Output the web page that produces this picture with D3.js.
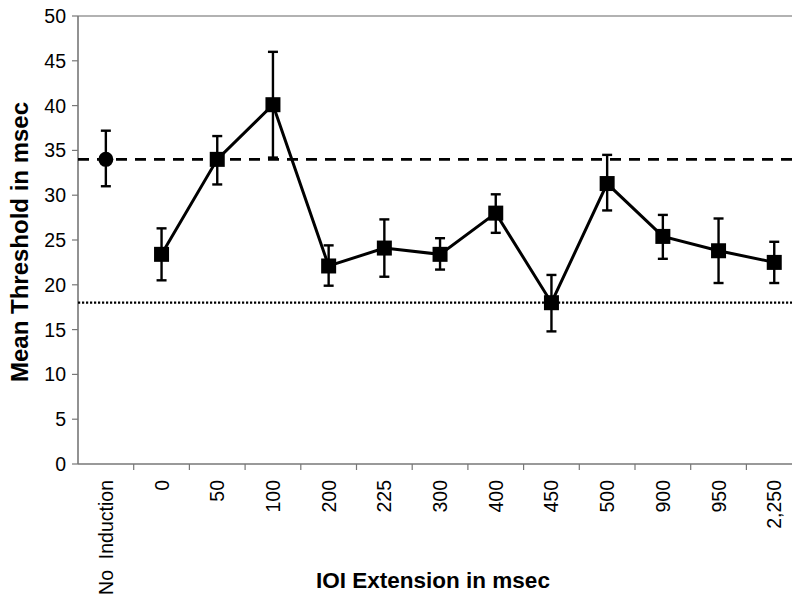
<!DOCTYPE html>
<html>
<head>
<meta charset="utf-8">
<script src="https://cdn.jsdelivr.net/npm/d3@7"></script>
<style>
  body{margin:0;background:#fff;}
  text{font-family:"Liberation Sans",Arial,sans-serif;fill:#000;}
</style>
</head>
<body>
<script>
// categories along the x axis
var categories = ["No\u00A0\u00A0Induction","0","50","100","200","225","300","400","450","500","900","950","2,250"];
// mean threshold and error bar ends (msec)
var means = [34.0,23.4,34.0,40.1,22.1,24.1,23.4,28.0,18.0,31.3,25.4,23.8,22.5];
var upper = [37.2,26.3,36.6,46.0,24.4,27.3,25.2,30.1,21.1,34.5,27.8,27.4,24.8];
var lower = [31.0,20.5,31.2,34.2,19.9,20.9,21.7,25.8,14.8,28.3,22.9,20.2,20.2];
var yTicks = [0,5,10,15,20,25,30,35,40,45,50];
var dashedRef = 34;
var dottedRef = 18;

var width = 792, height = 595;
var plotLeft = 78, plotTop = 16, plotBottom = 464;
var band = 55.7;

var svg = d3.select("body").append("svg")
    .attr("width", width)
    .attr("height", height);

var x = d3.scaleBand().domain(categories).range([plotLeft, plotLeft + band*categories.length]).padding(0);
var y = d3.scaleLinear().domain([0,50]).range([plotBottom, plotTop]);
var cx = function(i){ return x(categories[i]) + x.bandwidth()/2; };

// frame: top border, y axis, x axis
svg.append("line").attr("x1",plotLeft).attr("x2",width).attr("y1",plotTop).attr("y2",plotTop)
  .attr("stroke","#999").attr("stroke-width",1.3);
svg.append("line").attr("x1",plotLeft).attr("x2",plotLeft).attr("y1",plotTop).attr("y2",plotBottom)
  .attr("stroke","#777").attr("stroke-width",1.6);
svg.append("line").attr("x1",plotLeft).attr("x2",width).attr("y1",plotBottom).attr("y2",plotBottom)
  .attr("stroke","#777").attr("stroke-width",1.6);

// y ticks + labels
svg.selectAll("line.ytick").data(yTicks).enter().append("line")
  .attr("class","ytick")
  .attr("x1",plotLeft-6).attr("x2",plotLeft)
  .attr("y1",function(d){return y(d);}).attr("y2",function(d){return y(d);})
  .attr("stroke","#777").attr("stroke-width",1.2);
svg.selectAll("text.ylab").data(yTicks).enter().append("text")
  .attr("class","ylab")
  .attr("x",66).attr("y",function(d){return y(d);})
  .attr("dy","0.36em")
  .attr("text-anchor","end")
  .style("font-size","19.5px")
  .text(function(d){return d;});

// x ticks at band boundaries
svg.selectAll("line.xtick").data(categories.slice(1)).enter().append("line")
  .attr("class","xtick")
  .attr("x1",function(d){return x(d);}).attr("x2",function(d){return x(d);})
  .attr("y1",plotBottom).attr("y2",plotBottom+6)
  .attr("stroke","#777").attr("stroke-width",1.2);
svg.selectAll("text.xlab").data(categories).enter().append("text")
  .attr("class","xlab")
  .attr("transform",function(d,i){return "translate("+(cx(i)+7)+",480) rotate(-90)";})
  .attr("text-anchor","end")
  .style("font-size","19.5px")
  .text(function(d){return d;});

// reference lines
svg.append("line").attr("x1",plotLeft).attr("x2",width)
  .attr("y1",y(dashedRef)).attr("y2",y(dashedRef))
  .attr("stroke","#000").attr("stroke-width",2.8).attr("stroke-dasharray","11,8");
svg.append("line").attr("x1",plotLeft).attr("x2",width)
  .attr("y1",y(dottedRef)).attr("y2",y(dottedRef))
  .attr("stroke","#000").attr("stroke-width",2.3).attr("stroke-dasharray","2.2,1.8");

// error bars
var idx = d3.range(categories.length);
var eb = svg.append("g").attr("stroke","#000").attr("stroke-width",2.4);
eb.selectAll("line.v").data(idx).enter().append("line")
  .attr("x1",cx).attr("x2",cx)
  .attr("y1",function(i){return y(upper[i]);}).attr("y2",function(i){return y(lower[i]);});
eb.selectAll("line.u").data(idx).enter().append("line")
  .attr("x1",function(i){return cx(i)-5;}).attr("x2",function(i){return cx(i)+5;})
  .attr("y1",function(i){return y(upper[i]);}).attr("y2",function(i){return y(upper[i]);});
eb.selectAll("line.l").data(idx).enter().append("line")
  .attr("x1",function(i){return cx(i)-5;}).attr("x2",function(i){return cx(i)+5;})
  .attr("y1",function(i){return y(lower[i]);}).attr("y2",function(i){return y(lower[i]);});

// connecting line (no induction is not connected)
var line = d3.line().x(function(i){return cx(i);}).y(function(i){return y(means[i]);});
svg.append("path").datum(idx.slice(1))
  .attr("d",line).attr("fill","none").attr("stroke","#000").attr("stroke-width",3);

// markers
svg.append("circle").attr("cx",cx(0)).attr("cy",y(means[0])).attr("r",7.5).attr("fill","#000");
svg.selectAll("rect.pt").data(idx.slice(1)).enter().append("rect")
  .attr("class","pt")
  .attr("x",function(i){return cx(i)-7.5;}).attr("y",function(i){return y(means[i])-7.5;})
  .attr("width",15).attr("height",15).attr("fill","#000");

// axis titles
svg.append("text").attr("x",433).attr("y",588).attr("text-anchor","middle")
  .style("font-size","22.5px").style("font-weight","bold")
  .text("IOI Extension in msec");
svg.append("text").attr("transform","translate(28,242) rotate(-90)").attr("text-anchor","middle")
  .style("font-size","24px").style("font-weight","bold")
  .text("Mean Threshold in msec");
</script>
</body>
</html>
